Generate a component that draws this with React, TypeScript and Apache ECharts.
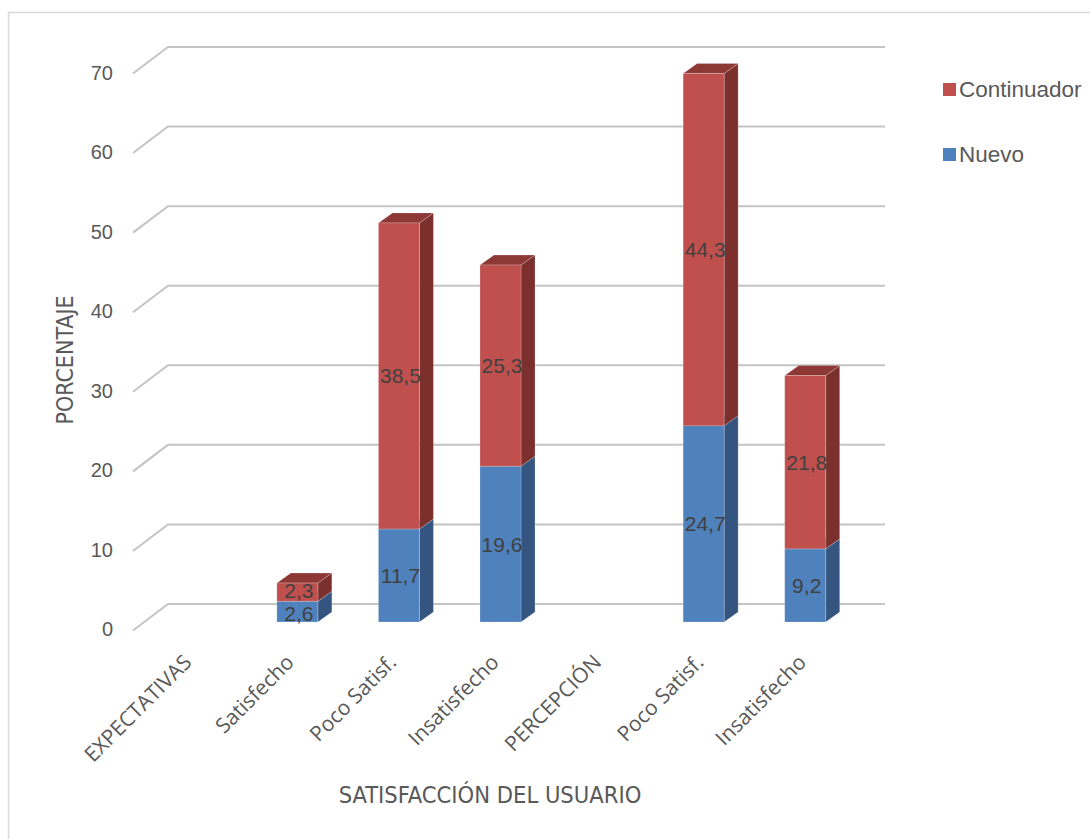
import React, { useEffect, useRef } from "react";
import * as echarts from "echarts";

// Categories along the horizontal axis
const categories = [
  "EXPECTATIVAS",
  "Satisfecho",
  "Poco Satisf.",
  "Insatisfecho",
  "PERCEPCIÓN",
  "Poco Satisf.",
  "Insatisfecho",
];

// Percentages per category (null = no bar)
const nuevo: (number | null)[] = [null, 2.6, 11.7, 19.6, null, 24.7, 9.2];
const continuador: (number | null)[] = [null, 2.3, 38.5, 25.3, null, 44.3, 21.8];

// Value axis ticks
const yTicks = [0, 10, 20, 30, 40, 50, 60, 70];

const LABEL_FONT = "'Liberation Sans', Arial, sans-serif";
const CAT_FONT = "'Open Sans', 'Liberation Sans', sans-serif";
const NARROW_FONT = "'Liberation Sans Narrow', 'DejaVu Sans Condensed', 'Liberation Sans', Arial, sans-serif";

const COLORS = {
  Nuevo: { front: "#4F81BD", side: "#34557F", top: "#3E6596" },
  Continuador: { front: "#C0504D", side: "#7C302E", top: "#8E3836" },
};

// depth of each bar (px) and projection of the back wall
const DEPTH_X = 14;
const DEPTH_Y = 10;
const WALL_DX = 35;
const WALL_DY = 26.5;
const BAR_W = 41;

const fmt = (v: number) => v.toFixed(1).replace(".", ",");

function barRenderer(kind: "Nuevo" | "Continuador") {
  const c = COLORS[kind];
  return (params: any, api: any) => {
    const cat = api.value(0);
    const base = api.value(1);
    const val = api.value(2);
    const bottom = api.coord([cat, base]);
    const topP = api.coord([cat, base + val]);
    const cx = bottom[0];
    const x0 = cx - BAR_W / 2;
    const x1 = cx + BAR_W / 2;
    const yb = bottom[1];
    const yt = topP[1];
    // short segments: keep the two stacked labels apart
    const nudge = yb - yt < 30 ? (kind === "Nuevo" ? 1.5 : -1.5) : 0;
    return {
      type: "group",
      children: [
        {
          type: "polygon",
          shape: {
            points: [
              [x1, yt],
              [x1 + DEPTH_X, yt - DEPTH_Y],
              [x1 + DEPTH_X, yb - DEPTH_Y],
              [x1, yb],
            ],
          },
          style: { fill: c.side, stroke: "rgba(255,255,255,0.35)", lineWidth: 0.6 },
        },
        {
          type: "polygon",
          shape: {
            points: [
              [x0, yt],
              [x0 + DEPTH_X, yt - DEPTH_Y],
              [x1 + DEPTH_X, yt - DEPTH_Y],
              [x1, yt],
            ],
          },
          style: { fill: c.top, stroke: "rgba(255,255,255,0.35)", lineWidth: 0.6 },
        },
        {
          type: "rect",
          shape: { x: x0, y: yt, width: BAR_W, height: yb - yt },
          style: { fill: c.front, stroke: "rgba(255,255,255,0.35)", lineWidth: 0.6 },
        },
        {
          type: "text",
          x: cx + 1.5,
          y: (yt + yb) / 2 + nudge,
          style: {
            text: fmt(val),
            fill: "#404040",
            font: `21px ${LABEL_FONT}`,
            align: "center",
            verticalAlign: "middle",
          },
        },
      ],
    };
  };
}

export default function App() {
  const ref = useRef<HTMLDivElement>(null);

  useEffect(() => {
    if (!ref.current) return;
    const chart = echarts.init(ref.current, undefined, { renderer: "svg" });

    const nuevoData = nuevo
      .map((v, i) => (v == null ? null : [i, 0, v]))
      .filter((d) => d !== null);
    const contData = continuador
      .map((v, i) => (v == null ? null : [i, nuevo[i] ?? 0, v]))
      .filter((d) => d !== null);

    const option: any = {
      animation: false,
      backgroundColor: "#ffffff",
      legend: {
        orient: "vertical",
        left: 938,
        top: 73,
        itemGap: 42,
        itemWidth: 13,
        itemHeight: 13,
        icon: "rect",
        data: ["Continuador", "Nuevo"],
        textStyle: { fontSize: 22.5, color: "#595959", fontFamily: LABEL_FONT, padding: [0, 0, 0, -2] },
      },
      grid: [
        // back wall (gridlines)
        { left: 168, top: 47, width: 717, height: 557 },
        // front face of the bars
        { left: 145, top: 65.5, width: 711, height: 556.5 },
        // front edge of the axes (labels)
        { left: 136, top: 73, width: 717, height: 556 },
      ],
      xAxis: [
        { gridIndex: 0, type: "category", data: categories, show: false },
        { gridIndex: 1, type: "category", data: categories, show: false },
        {
          gridIndex: 2,
          type: "category",
          data: categories,
          axisLine: { show: false },
          axisTick: { show: false },
          axisLabel: {
            rotate: 45,
            margin: 29,
            interval: 0,
            fontSize: 21,
            color: "#595959",
            fontFamily: CAT_FONT,
          },
        },
      ],
      yAxis: [
        { gridIndex: 0, type: "value", min: 0, max: 70, interval: 10, show: false },
        { gridIndex: 1, type: "value", min: 0, max: 70, interval: 10, show: false },
        {
          gridIndex: 2,
          type: "value",
          min: 0,
          max: 70,
          interval: 10,
          axisLine: { show: false },
          axisTick: { show: false },
          splitLine: { show: false },
          axisLabel: {
            margin: 23,
            fontSize: 20,
            color: "#595959",
            fontFamily: LABEL_FONT,
          },
        },
      ],
      series: [
        {
          name: "gridlines",
          type: "custom",
          xAxisIndex: 0,
          yAxisIndex: 0,
          silent: true,
          z: 1,
          data: yTicks.map((t) => [0, t]),
          renderItem: (params: any, api: any) => {
            const cs = params.coordSys;
            const y = api.coord([0, api.value(1)])[1];
            return {
              type: "polyline",
              shape: {
                points: [
                  [cs.x - WALL_DX, y + WALL_DY],
                  [cs.x, y],
                  [cs.x + cs.width, y],
                ],
              },
              style: { stroke: "#C4C4C4", lineWidth: 2, fill: "none" },
            };
          },
        },
        {
          name: "Nuevo",
          type: "custom",
          xAxisIndex: 1,
          yAxisIndex: 1,
          z: 3,
          itemStyle: { color: COLORS.Nuevo.front },
          data: nuevoData,
          renderItem: barRenderer("Nuevo"),
        },
        {
          name: "Continuador",
          type: "custom",
          xAxisIndex: 1,
          yAxisIndex: 1,
          z: 4,
          itemStyle: { color: COLORS.Continuador.front },
          data: contData,
          renderItem: barRenderer("Continuador"),
        },
      ],
      graphic: [
        {
          type: "rect",
          shape: { x: 8.5, y: 12.5, width: 1100, height: 840 },
          style: { fill: "none", stroke: "#D9D9D9", lineWidth: 1.5 },
          silent: true,
        },
        {
          type: "text",
          x: 65,
          y: 360,
          rotation: Math.PI / 2,
          style: {
            text: "PORCENTAJE",
            fill: "#595959",
            font: `23px ${NARROW_FONT}`,
            align: "center",
            verticalAlign: "middle",
          },
        },
        {
          type: "text",
          x: 490,
          y: 795,
          style: {
            text: "SATISFACCIÓN DEL USUARIO",
            fill: "#595959",
            font: `23.5px ${NARROW_FONT}`,
            align: "center",
            verticalAlign: "middle",
          },
        },
      ],
    };

    chart.setOption(option);
    return () => chart.dispose();
  }, []);

  return (
    <div
      ref={ref}
      style={{ position: "absolute", left: 0, top: 0, width: 1090, height: 839 }}
    />
  );
}
